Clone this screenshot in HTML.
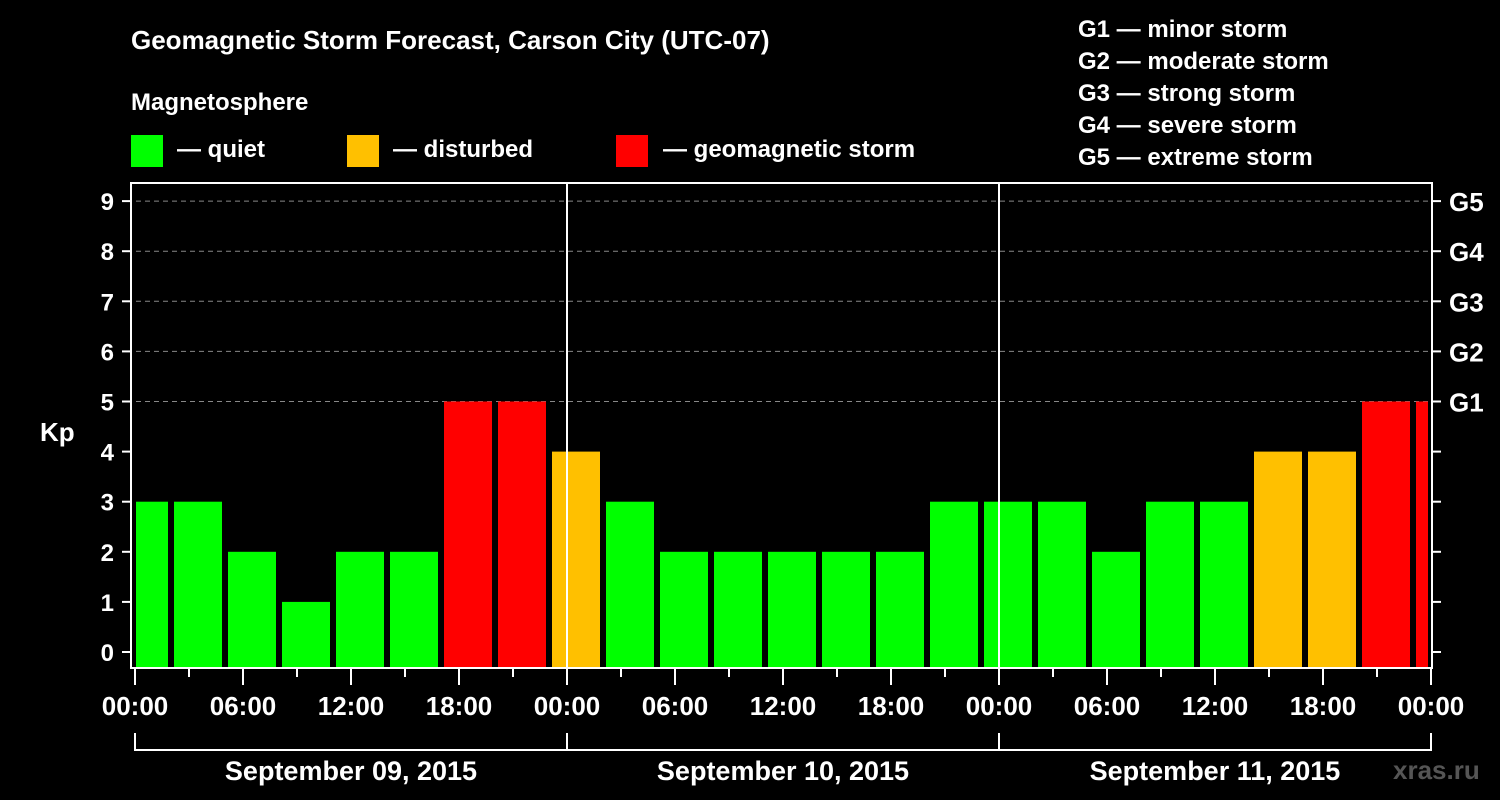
<!DOCTYPE html>
<html><head><meta charset="utf-8"><style>
html,body{margin:0;padding:0;background:#000;}
svg{display:block;font-family:"Liberation Sans",sans-serif;font-weight:bold;}
</style></head><body>
<svg width="1500" height="800" viewBox="0 0 1500 800">
<text x="131" y="49" fill="#fff" font-size="26">Geomagnetic Storm Forecast, Carson City (UTC-07)</text>
<text x="131" y="110" fill="#fff" font-size="24">Magnetosphere</text>
<g>
<rect x="131" y="135" width="32" height="32" fill="#00ff00"/>
<text x="177" y="157" fill="#fff" font-size="24">— quiet</text>
<rect x="347" y="135" width="32" height="32" fill="#ffc000"/>
<text x="393" y="157" fill="#fff" font-size="24">— disturbed</text>
<rect x="616" y="135" width="32" height="32" fill="#ff0000"/>
<text x="663" y="157" fill="#fff" font-size="24">— geomagnetic storm</text>
</g>
<g fill="#fff" font-size="24">
<text x="1078" y="37">G1 — minor storm</text>
<text x="1078" y="69">G2 — moderate storm</text>
<text x="1078" y="101">G3 — strong storm</text>
<text x="1078" y="133">G4 — severe storm</text>
<text x="1078" y="165">G5 — extreme storm</text>
</g>
<text x="40" y="441" fill="#fff" font-size="26">Kp</text>
<text x="1393" y="779" fill="#555" font-size="26">xras.ru</text>
<defs><clipPath id="pc"><rect x="136" y="183" width="1292" height="485"/></clipPath></defs>
<g id="grid"></g>
<g id="bars" clip-path="url(#pc)"></g>
<g id="axes"></g>
</svg>
<script>
const kpValues=[3,3,2,1,2,2,5,5,4,3,2,2,2,2,2,3,3,3,2,3,3,4,4,5,5];
const yTicks=[0,1,2,3,4,5,6,7,8,9];
const gLabels=["G1","G2","G3","G4","G5"];
const gLevels=[5,6,7,8,9];
const timeLabels=["00:00","06:00","12:00","18:00","00:00","06:00","12:00","18:00","00:00","06:00","12:00","18:00","00:00"];
const dayLabels=["September 09, 2015","September 10, 2015","September 11, 2015"];
const NS="http://www.w3.org/2000/svg";
const X0=135,PXH=18,Y0=652,PXK=50.1;
const xs=h=>X0+h*PXH;
const ys=k=>Y0-k*PXK;
function mk(tag,attrs,parent){const e=document.createElementNS(NS,tag);for(const k in attrs)e.setAttribute(k,attrs[k]);parent.appendChild(e);return e;}
const grid=document.getElementById('grid'),bars=document.getElementById('bars'),axes=document.getElementById('axes');
gLevels.forEach((g,i)=>{
 const l=mk('line',{x1:136,x2:1430,y1:ys(g),y2:ys(g),stroke:'#888','stroke-dasharray':'5,4','stroke-width':1},grid);
 
 
 const t=mk('text',{x:1449,y:ys(g)+10,fill:'#fff','font-size':26},axes);t.textContent=gLabels[i];
 
 
});
kpValues.forEach((v,i)=>{
 const c=xs(0.5+3*i);
 const col=v>=5?'#ff0000':(v>=4?'#ffc000':'#00ff00');
 const r=mk('rect',{x:c-24,y:ys(v),width:48,height:667-ys(v),fill:col},bars);
 
 
});
const box=mk('rect',{x:131,y:183,width:1301,height:485,fill:'none',stroke:'#fff','stroke-width':2},axes);


[24,48].forEach(h=>{const l=mk('line',{x1:xs(h),x2:xs(h),y1:183,y2:668,stroke:'#fff','stroke-width':2},axes);
 
 });
yTicks.forEach(k=>{
 mk('line',{x1:122,x2:131,y1:ys(k),y2:ys(k),stroke:'#fff','stroke-width':2},axes);
 mk('line',{x1:1432,x2:1441,y1:ys(k),y2:ys(k),stroke:'#fff','stroke-width':2},axes);
 const t=mk('text',{x:114,y:ys(k)+9,fill:'#fff','font-size':24,'text-anchor':'end'},axes);t.textContent=k;
 
 
});
for(let h=0;h<=72;h+=3){const big=h%6===0;mk('line',{x1:xs(h),x2:xs(h),y1:669,y2:big?685:677,stroke:'#fff','stroke-width':2},axes);}
timeLabels.forEach((s,i)=>{const t=mk('text',{x:xs(i*6),y:715,fill:'#fff','font-size':26,'text-anchor':'middle'},axes);t.textContent=s;
 
 });
mk('polyline',{points:`${xs(0)},733 ${xs(0)},750 ${xs(72)},750 ${xs(72)},733`,fill:'none',stroke:'#fff','stroke-width':2},axes);
[24,48].forEach(h=>mk('line',{x1:xs(h),x2:xs(h),y1:733,y2:750,stroke:'#fff','stroke-width':2},axes));
dayLabels.forEach((s,i)=>{const t=mk('text',{x:xs(i*24+12),y:780,fill:'#fff','font-size':27,'text-anchor':'middle'},axes);t.textContent=s;
 
 });
</script>
</body></html>
